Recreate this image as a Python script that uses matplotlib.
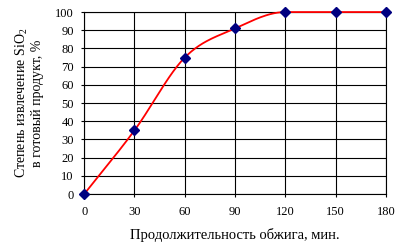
import numpy as np
import matplotlib
matplotlib.use('Agg')
import matplotlib.pyplot as plt

# === Data ===
TIME_MIN = [0, 30, 60, 90, 120, 150, 180]
EXTRACTION = [0, 35, 75, 91, 100, 100, 100]
X_TICKS = [0, 30, 60, 90, 120, 150, 180]
Y_TICKS = [0, 10, 20, 30, 40, 50, 60, 70, 80, 90, 100]

plt.rcParams['font.family'] = ['Liberation Serif', 'DejaVu Serif']
plt.rcParams['mathtext.fontset'] = 'custom'
plt.rcParams['mathtext.rm'] = 'Liberation Serif'
plt.rcParams['mathtext.it'] = 'Liberation Serif:italic'


def smooth_line(xs, ys, n=40):
    """Catmull-Rom curve (like Excel's smoothed line), flat where a neighbour segment is flat."""
    xs = np.asarray(xs, float)
    ys = np.asarray(ys, float)
    h = np.diff(xs)
    d = np.diff(ys) / h
    m = np.zeros_like(ys)
    m[0], m[-1] = d[0], d[-1]
    for i in range(1, len(xs) - 1):
        if d[i - 1] * d[i] <= 0:
            m[i] = 0
        else:
            m[i] = (ys[i + 1] - ys[i - 1]) / (xs[i + 1] - xs[i - 1])
    px, py = [], []
    for i in range(len(xs) - 1):
        t = np.linspace(0, 1, n)
        h00 = 2 * t ** 3 - 3 * t ** 2 + 1
        h10 = t ** 3 - 2 * t ** 2 + t
        h01 = -2 * t ** 3 + 3 * t ** 2
        h11 = t ** 3 - t ** 2
        px.extend(xs[i] + t * h[i])
        py.extend(h00 * ys[i] + h10 * h[i] * m[i] + h01 * ys[i + 1] + h11 * h[i] * m[i + 1])
    return np.array(px), np.array(py)


fig = plt.figure(figsize=(3.99, 2.46), dpi=100)
ax = fig.add_axes([0.211, 0.211, 0.756, 0.740])

sx, sy = smooth_line(TIME_MIN, EXTRACTION)
ax.plot(sx, sy, color='#ff0000', lw=1.3, clip_on=False, zorder=3)
ax.plot(TIME_MIN, EXTRACTION, ls='none', marker='D', ms=5.5, color='#000080',
        clip_on=False, zorder=4)

ax.set_xlim(0, 180)
ax.set_ylim(0, 100)
ax.set_xticks(X_TICKS)
ax.set_yticks(Y_TICKS)
ax.grid(True, color='black', lw=0.8)
ax.set_axisbelow(True)
for s in ax.spines.values():
    s.set_color('black')
    s.set_linewidth(0.8)
ax.tick_params(length=2.5, width=0.8, labelsize=9, colors='black')
ax.tick_params(axis='y', pad=5)
ax.tick_params(axis='x', pad=6)

ax.set_xlabel('Продолжительность обжига, мин.', fontsize=10.5, labelpad=7)
ax.set_ylabel('Степень извлечение SiO$_2$\nв готовый продукт, %', fontsize=10,
              labelpad=8, linespacing=1.1)

fig.savefig('out.png', dpi=100)
